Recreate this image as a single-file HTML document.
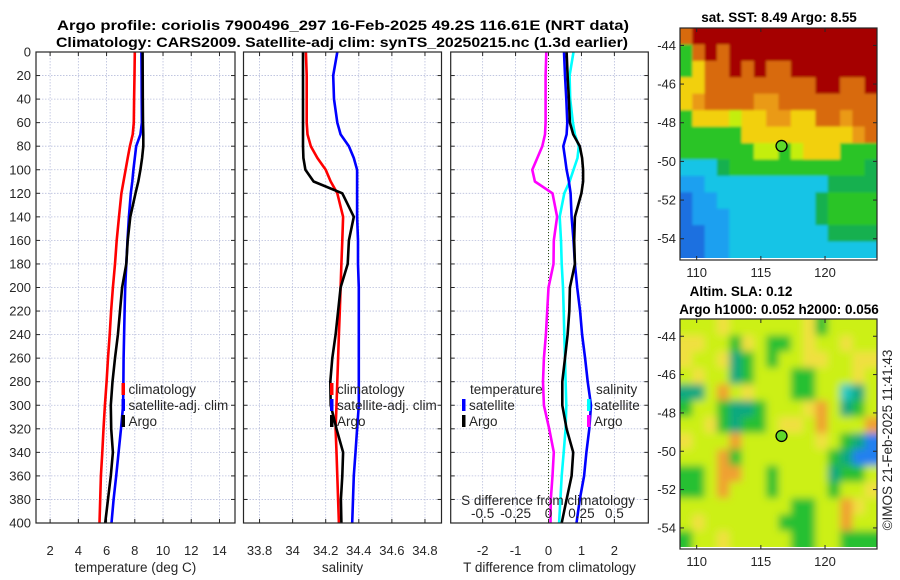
<!DOCTYPE html>
<html><head><meta charset="utf-8"><style>
html,body{margin:0;padding:0;background:#fff;}
svg{display:block;font-family:"Liberation Sans",sans-serif;}
</style></head><body>
<svg id="fig" width="900" height="580" viewBox="0 0 900 580" xmlns="http://www.w3.org/2000/svg">
<defs>
<filter id="blur4" x="-5%" y="-5%" width="110%" height="110%"><feGaussianBlur stdDeviation="4"/></filter>
<filter id="blur1" x="-5%" y="-5%" width="110%" height="110%"><feGaussianBlur stdDeviation="1.2"/></filter>
<clipPath id="clip-sst"><rect x="680" y="28" width="197" height="230"/></clipPath>
<clipPath id="clip-sla"><rect x="680" y="319" width="197" height="228"/></clipPath>
</defs>
<text x="343" y="30" text-anchor="middle" font-weight="bold" font-size="13.5" textLength="572" lengthAdjust="spacingAndGlyphs" fill="#000">Argo profile: coriolis 7900496_297 16-Feb-2025 49.2S 116.61E (NRT data)</text>
<text x="342" y="47" text-anchor="middle" font-weight="bold" font-size="13.5" textLength="572" lengthAdjust="spacingAndGlyphs" fill="#000">Climatology: CARS2009. Satellite-adj clim: synTS_20250215.nc (1.3d earlier)</text>
<g id="plots"></g>
</svg>
<script>
// ---------- data ----------
const depths = [0,20,40,60,70,80,90,100,110,120,140,160,180,200,220,240,260,280,300,320,340,360,380,400];
const tempClim = [8.0,7.98,7.95,7.93,7.85,7.65,7.5,7.35,7.2,7.05,6.88,6.72,6.6,6.45,6.32,6.22,6.1,6.0,5.88,5.78,5.7,5.6,5.55,5.5];
const tempSat = [8.47,8.48,8.49,8.5,8.4,8.1,8.0,7.9,7.82,7.72,7.58,7.48,7.4,7.32,7.28,7.24,7.21,7.19,7.17,7.02,6.85,6.68,6.5,6.35];
const tempArgo = [8.55,8.56,8.57,8.58,8.6,8.6,8.52,8.4,8.25,8.05,7.68,7.5,7.4,7.1,6.95,6.8,6.6,6.42,6.3,6.33,6.45,6.3,6.1,5.9];
const salClim = [34.08,34.085,34.085,34.085,34.09,34.11,34.15,34.2,34.23,34.27,34.305,34.3,34.295,34.29,34.285,34.28,34.275,34.27,34.265,34.26,34.265,34.27,34.275,34.28];
const salSat = [34.27,34.245,34.25,34.27,34.29,34.34,34.37,34.39,34.39,34.39,34.39,34.395,34.395,34.4,34.4,34.4,34.4,34.4,34.4,34.39,34.38,34.37,34.365,34.36];
const salArgo = [34.063,34.063,34.063,34.063,34.063,34.063,34.065,34.077,34.127,34.3,34.37,34.34,34.333,34.29,34.275,34.26,34.24,34.228,34.23,34.265,34.305,34.3,34.292,34.295];
const depthTicks = [0,20,40,60,80,100,120,140,160,180,200,220,240,260,280,300,320,340,360,380,400];
const tempTicks = [2,4,6,8,10,12,14];
const salTicks = [33.8,34,34.2,34.4,34.6,34.8];
const diffTicks = [-2,-1,0,1,2];
const sdiffTicks = [-0.5,-0.25,0,0.25,0.5];
const sdiffLabels = ["-0.5","-0.25","0","0.25","0.5"];
const lonTicks = [110,115,120];
const latTicks = [-44,-46,-48,-50,-52,-54];
const argoLon = 116.61, argoLat = -49.2;
const sstRows = [
"ORRRRRRRRRRRRRRR",
"GORORRRRRRRRRRRR",
"GYOOROROORRRRRRR",
"YYOOOOOOOOORROOR",
"YoOOOOooOOOOOOOO",
"GYYYyYYooYYOOoOO",
"GGGGGYYYYYYYYYoO",
"GGGGGGyyGyYYYGGG",
"CCCgGGGGGGGGGGGg",
"BBCCCCCCCCCCgggg",
"DBBCCCCCCCCgGGGG",
"DBBBCCCCCCCgGGGG",
"DDBBCCCCCCCCgggg",
"DDBBCCCCCCCCCCCC"];
const slaRows = [
"yyyYyyyyyyYGyyyy",
"YYyyGYyGGyYyyYyy",
"YyyYTGyGyyYYyyYY",
"yYyyTGyyyGGyyyYy",
"TTyoyYyyyGGyyCTy",
"GyyGTTGyyyYoyTGy",
"yyYGTGGyYYyoyyyo",
"YyyyoyyyyyyYyGTB",
"yyyoGyyyyyyyGTBB",
"GGyooyyGyyyyTGGy",
"GGyoyyyGyyyyGyyY",
"yyyyyyyyyGGyyoYy",
"yYyyyyyyGGGyyoyy",
"GyyYyyyyyGGyyGGG"];
const palette = {R:"#a50000",O:"#d86a10",o:"#ea9a18",Y:"#f2d010",y:"#c4ee10",G:"#2cc428",g:"#12b050",T:"#10a888",C:"#18c4e6",B:"#1aa0f0",D:"#1a70e0"};
const slaPalette = {y:"#ccf018",Y:"#f0e040",o:"#f0a030",G:"#28c030",T:"#10a880",C:"#20c8c0",B:"#2080f0"};

// ---------- helpers ----------
const NS = "http://www.w3.org/2000/svg";
const root = document.getElementById("plots");
function mk(tag, attrs, parent){ const e=document.createElementNS(NS,tag); for(const k in attrs) e.setAttribute(k,attrs[k]); (parent||root).appendChild(e); return e; }
const Y0=52, Y1=523;
const yD = d => Y0 + (d-0)/(400-0)*(Y1-Y0);
function lin(d0,d1,p0,p1){ return v => p0 + (v-d0)/(d1-d0)*(p1-p0); }
const TXT="#262626";

function panel(name, x0, x1, xd0, xd1, ticks, labels, xlabel, showY){
  const g = mk("g",{});
  
  
  const sx = lin(xd0,xd1,x0,x1);
  depthTicks.forEach(d=>{
    const l = mk("line",{x1:x0,x2:x1,y1:yD(d),y2:yD(d),stroke:"#b8bedc","stroke-width":0.8,"stroke-dasharray":"1.5,1.5"},g);
    
    
    mk("line",{x1:x0,x2:x0+4,y1:yD(d),y2:yD(d),stroke:"#262626","stroke-width":1},g);
    mk("line",{x1:x1,x2:x1-4,y1:yD(d),y2:yD(d),stroke:"#262626","stroke-width":1},g);
    if(showY){
      const t = mk("text",{x:x0-5,y:yD(d)+4.5,"text-anchor":"end","font-size":13,fill:TXT},g);
      t.textContent = d;
      
      
    }
  });
  ticks.forEach((v,i)=>{
    const l = mk("line",{x1:sx(v),x2:sx(v),y1:Y0,y2:Y1,stroke:"#b8bedc","stroke-width":0.8,"stroke-dasharray":"1.5,1.5"},g);
    
    
    mk("line",{x1:sx(v),x2:sx(v),y1:Y1,y2:Y1-4,stroke:"#262626"},g);
    mk("line",{x1:sx(v),x2:sx(v),y1:Y0,y2:Y0+4,stroke:"#262626"},g);
    const t = mk("text",{x:sx(v),y:555,"text-anchor":"middle","font-size":13,fill:TXT},g);
    t.textContent = labels ? labels[i] : v;
    
    
  });
  const xl = mk("text",{x:(x0+x1)/2,y:572,"text-anchor":"middle","font-size":13.5,fill:TXT},g);
  xl.textContent = xlabel;
  
  
  return {g,sx,x0,x1};
}
function frame(p){
  const r = mk("rect",{x:p.x0,y:Y0,width:p.x1-p.x0,height:Y1-Y0,fill:"none",stroke:"#262626","stroke-width":1.2},p.g);
  
  
}
function series(p, vals, color, name, conv){
  const pts = vals.map((v,i)=> (p.sx(conv?conv(v):v)).toFixed(1)+","+yD(depths[i]).toFixed(1)).join(" ");
  const pl = mk("polyline",{points:pts,fill:"none",stroke:color,"stroke-width":2.6,"stroke-linejoin":"round"},p.g);
  
  
}
function legend(p, x, y, color, label, name){
  const b = mk("rect",{x:x,y:y-6,width:3.5,height:12,fill:color},p.g);
  
  
  if(label){
    const t = mk("text",{x:x+7,y:y+5,"font-size":13.5,fill:TXT},p.g);
    t.textContent = label;
    
    
  }
}
function txt(p,x,y,s,name,anchor){
  const t = mk("text",{x:x,y:y,"font-size":13.5,fill:TXT,"text-anchor":anchor||"start"},p.g);
  t.textContent = s;
  
  
  return t;
}

// ---------- panel 1: temperature ----------
const p1 = panel("temperature-panel",36,235,1,15.1,tempTicks,null,"temperature (deg C)",true);
series(p1,tempClim,"#ff0000","temp-climatology-line");
series(p1,tempSat,"#0000ff","temp-satellite-line");
series(p1,tempArgo,"#000000","temp-argo-line");
frame(p1);
legend(p1,121.5,389,"#ff0000","climatology","legend-climatology");
legend(p1,121.5,405,"#0000ff","satellite-adj. clim","legend-satellite-clim");
legend(p1,121.5,421,"#000000","Argo","legend-argo");

// ---------- panel 2: salinity ----------
const p2 = panel("salinity-panel",243.5,441.5,33.703,34.9,salTicks,null,"salinity",false);
series(p2,salClim,"#ff0000","sal-climatology-line");
series(p2,salSat,"#0000ff","sal-satellite-line");
series(p2,salArgo,"#000000","sal-argo-line");
frame(p2);
legend(p2,330,389,"#ff0000","climatology","legend-climatology");
legend(p2,330,405,"#0000ff","satellite-adj. clim","legend-satellite-clim");
legend(p2,330,421,"#000000","Argo","legend-argo");

// ---------- panel 3: differences ----------
const p3 = panel("difference-panel",450.7,648.3,-2.97,3.03,diffTicks,null,"T difference from climatology",false);
const z = mk("line",{x1:p3.sx(0),x2:p3.sx(0),y1:Y0,y2:Y1,stroke:"#2a4a10","stroke-width":1,"stroke-dasharray":"1,2"},p3.g);


const tSatDiff = tempSat.map((v,i)=>v-tempClim[i]);
const tArgoDiff = tempArgo.map((v,i)=>v-tempClim[i]);
const sSatDiff = salSat.map((v,i)=>v-salClim[i]);
const sArgoDiff = salArgo.map((v,i)=>v-salClim[i]);
const sToT = s => s*4;
series(p3,sArgoDiff,"#ff00ff","sal-argo-diff-line",sToT);
series(p3,sSatDiff,"#00ffff","sal-satellite-diff-line",sToT);
series(p3,tSatDiff,"#0000ff","temp-satellite-diff-line");
series(p3,tArgoDiff,"#000000","temp-argo-diff-line");
frame(p3);
txt(p3,470,394,"temperature","legend-temperature-header");
legend(p3,462,405,"#0000ff","satellite","legend-temp-satellite");
legend(p3,462,421,"#000000","Argo","legend-temp-argo");
txt(p3,596,394,"salinity","legend-salinity-header");
legend(p3,587,405,"#00ffff","satellite","legend-sal-satellite");
legend(p3,587,421,"#ff00ff","Argo","legend-sal-argo");
txt(p3,548,505,"S difference from climatology","s-axis-title","middle");
sdiffTicks.forEach((v,i)=>{ txt(p3,p3.sx(sToT(v)),518,sdiffLabels[i],"s-tick-label","middle"); });

// ---------- maps ----------
function map(name, top, bottom, rows, pal, titles, clip, blur){
  const x0=680,x1=877;
  const g = mk("g",{});
  
  
  const lonMin=108.7, lonMax=124.05, latTop=-43.1, latBot=-55.1;
  const sx = lin(lonMin,lonMax,x0,x1), sy = lin(latTop,latBot,top,bottom);
  const nr=rows.length, nc=rows[0].length;
  const cw=(x1-x0)/nc, ch=(bottom-2-top)/nr;
  const cg = mk("g",{"clip-path":"url(#"+clip+")"},g);
  
  
  const bg = mk("g",{filter:"url(#"+blur+")"},cg);
  rows.forEach((row,r)=>{ for(let c=0;c<nc;c++){
    const cell = mk("rect",{x:(x0+c*cw-(c==0?8:0)).toFixed(2),y:(top+r*ch-(r==0?8:0)).toFixed(2),width:(cw+0.4+(c==0||c==nc-1?8:0)).toFixed(2),height:(ch+0.4+(r==0||r==nr-1?8:0)).toFixed(2),fill:pal[row[c]]},bg);
    
    
  }});
  const fr = mk("rect",{x:x0,y:top,width:x1-x0,height:bottom-top,fill:"none",stroke:"#262626","stroke-width":1.2},g);
  
  
  lonTicks.forEach(v=>{
    mk("line",{x1:sx(v),x2:sx(v),y1:bottom,y2:bottom-4,stroke:"#262626"},g);
    mk("line",{x1:sx(v),x2:sx(v),y1:top,y2:top+4,stroke:"#262626"},g);
    const t=mk("text",{x:sx(v),y:bottom+17,"text-anchor":"middle","font-size":13,fill:TXT},g);
    t.textContent=v;
    
    
  });
  latTicks.forEach(v=>{
    mk("line",{x1:x0,x2:x0+4,y1:sy(v),y2:sy(v),stroke:"#262626"},g);
    mk("line",{x1:x1,x2:x1-4,y1:sy(v),y2:sy(v),stroke:"#262626"},g);
    const t=mk("text",{x:x0-4,y:sy(v)+4.5,"text-anchor":"end","font-size":13,fill:TXT},g);
    t.textContent=v;
    
    
  });
  const m = mk("circle",{cx:sx(argoLon),cy:sy(argoLat),r:5.5,fill:"#5ed82a",stroke:"#000","stroke-width":1.3},g);
  
  
  titles.forEach(tt=>{
    const t=mk("text",{x:tt[1],y:tt[2],"text-anchor":"middle","font-size":13.5,"font-weight":"bold",fill:"#000"},g);
    t.textContent=tt[0];
    
    
  });
}
map("sst-map",28,260,sstRows,palette,[["sat. SST: 8.49 Argo: 8.55",779,22]],"clip-sst","blur1");
map("sla-map",319,549,slaRows,slaPalette,[["Altim. SLA: 0.12",741,296],["Argo h1000: 0.052 h2000: 0.056",779,314]],"clip-sla","blur4");
const cp = mk("text",{x:0,y:0,"font-size":13.5,fill:TXT,"text-anchor":"middle",transform:"translate(892,440) rotate(-90)"});
cp.textContent = "\u00A9IMOS 21-Feb-2025 11:41:43";


</script>
</body></html>
